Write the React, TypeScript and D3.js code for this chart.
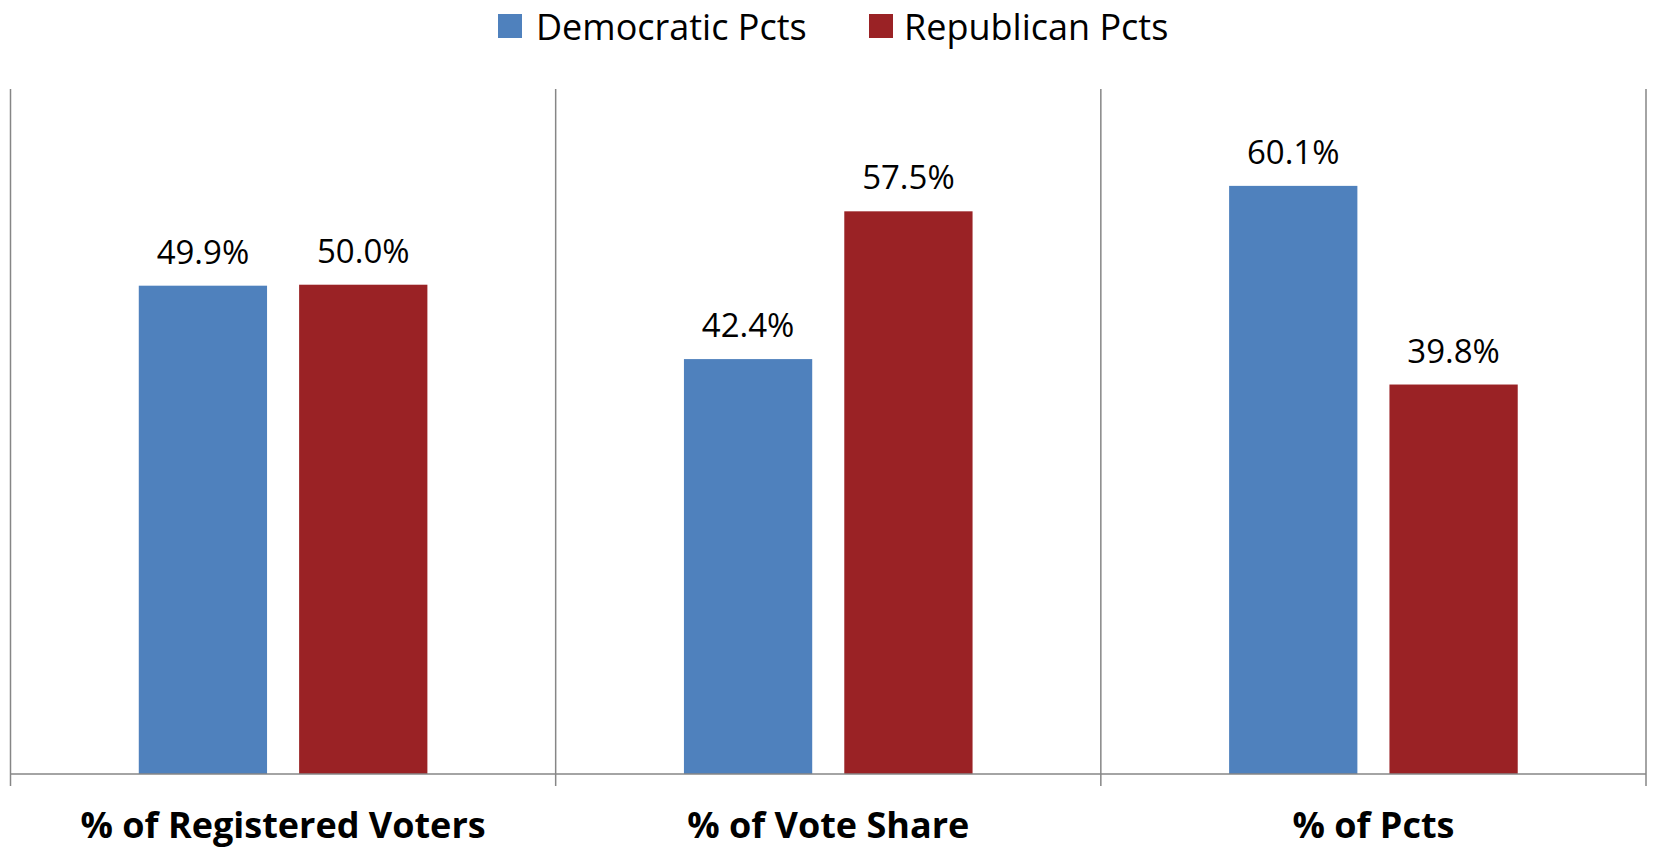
import React from "react";
import * as d3 from "d3";

const categories = ["% of Registered Voters", "% of Vote Share", "% of Pcts"];
const seriesNames = ["Democratic Pcts", "Republican Pcts"];
const democratic = [49.9, 42.4, 60.1];
const republican = [50.0, 57.5, 39.8];
const colors = ["#4F81BD", "#9A2225"];
const yMax = 70;

const W = 1653;
const H = 849;
const left = 10.5;
const right = 1646;
const top = 89;
const bottom = 774;
const FONT = "'Open Sans', 'Liberation Sans', sans-serif";

export default function App() {
  const x0 = d3.scaleBand<string>().domain(categories).range([left, right]).paddingInner(0).paddingOuter(0);
  const bw = x0.bandwidth();
  const barW = bw / 4.25;
  const groupOffset = (bw - barW * 2.25) / 2;
  const y = d3.scaleLinear().domain([0, yMax]).range([bottom, top]);
  const series = [democratic, republican];

  const dividers = [left, ...categories.map((c) => (x0(c) as number) + bw)];

  const legendItems = [
    { sq: 498, tx: 536 },
    { sq: 869, tx: 904 },
  ];

  return (
    <svg
      width={W}
      height={H}
      style={{ position: "absolute", left: 0, top: 0, display: "block", background: "#fff" }}
      fontFamily={FONT}
    >
      {/* legend */}
      {seriesNames.map((s, i) => (
        <g key={s}>
          <rect x={legendItems[i].sq} y={14} width={24} height={24} fill={colors[i]} />
          <text x={legendItems[i].tx} y={40} fontSize={36} fill="#000">
            {s}
          </text>
        </g>
      ))}

      {/* bars */}
      {categories.map((c, ci) => (
        <g key={c}>
          {series.map((vals, si) => {
            const bx = (x0(c) as number) + groupOffset + si * barW * 1.25;
            const by = y(vals[ci]);
            return (
              <g key={si}>
                <rect x={bx} y={by} width={barW} height={bottom - by} fill={colors[si]} />
                <text
                  x={bx + barW / 2}
                  y={by - 22}
                  textAnchor="middle"
                  fontSize={33}
                  fill="#000"
                >
                  {vals[ci].toFixed(1) + "%"}
                </text>
              </g>
            );
          })}
          <text
            x={(x0(c) as number) + bw / 2}
            y={838}
            textAnchor="middle"
            fontSize={36}
            fontWeight="bold"
            fill="#000"
          >
            {c}
          </text>
        </g>
      ))}

      {/* axes */}
      <line x1={left} x2={right} y1={bottom} y2={bottom} stroke="#868686" strokeWidth={1.5} />
      {dividers.map((d, i) => (
        <line key={i} x1={d} x2={d} y1={top} y2={bottom + 12} stroke="#868686" strokeWidth={1.5} />
      ))}
    </svg>
  );
}
